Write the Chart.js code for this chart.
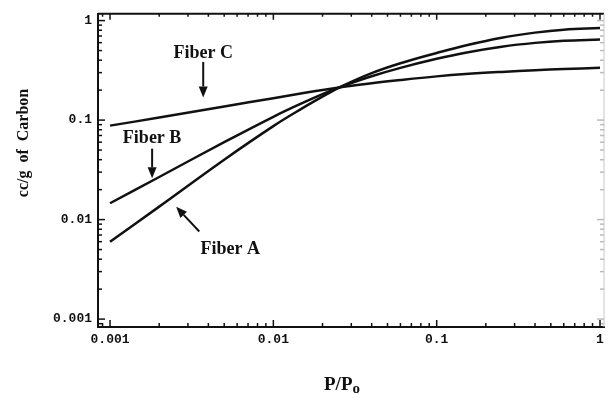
<!DOCTYPE html>
<html>
<head>
<meta charset="utf-8">
<script src="https://cdn.jsdelivr.net/npm/chart.js@4"></script>
<style>
  html, body { margin: 0; padding: 0; background: #fff; }
  #wrap { width: 609px; height: 394px; }
</style>
</head>
<body>
<div id="wrap"><canvas id="fiber-chart"></canvas></div>
<script>
"use strict";

// Relative pressure P/Po
var pressure = [0.001, 0.002, 0.005, 0.01, 0.015, 0.021, 0.026, 0.04, 0.06, 0.1, 0.15, 0.25, 0.4, 0.6, 1];
// cc/g of carbon
var fiberA = [0.006, 0.0135, 0.040, 0.087, 0.131, 0.18, 0.217, 0.296, 0.372, 0.472, 0.562, 0.672, 0.757, 0.81, 0.84];
var fiberB = [0.0146, 0.0268, 0.060, 0.108, 0.148, 0.189, 0.217, 0.276, 0.335, 0.413, 0.476, 0.546, 0.597, 0.627, 0.645];
var fiberC = [0.088, 0.106, 0.137, 0.166, 0.186, 0.203, 0.214, 0.235, 0.253, 0.275, 0.29, 0.305, 0.317, 0.326, 0.335];

var xTickVals = [0.001, 0.01, 0.1, 1];
var xTickLabels = ["0.001", "0.01", "0.1", "1"];
var yTickVals = [0.001, 0.01, 0.1, 1];
var yTickLabels = ["0.001", "0.01", "0.1", "1"];

// labels with arrows, in data units
var notes = [
  { text: "Fiber C", x: 0.00372, y: 0.471, from: [0.00372, 0.384], to: [0.00372, 0.169] },
  { text: "Fiber B", x: 0.00181, y: 0.0648, from: [0.00181, 0.0516], to: [0.00181, 0.026] },
  { text: "Fiber A", x: 0.00545, y: 0.00505, from: [0.00352, 0.0076], to: [0.00254, 0.01345] }
];

function points(ys) {
  return pressure.map(function(p, i) { return { x: p, y: ys[i] }; });
}

function curve(label, ys) {
  return {
    label: label,
    data: points(ys),
    borderColor: "#111",
    borderWidth: 2.5,
    pointRadius: 0,
    fill: false,
    tension: 0.4
  };
}

// inward tick marks, top/right frame, notes and axis titles
var frameTicks = {
  id: "frameTicks",
  afterDraw: function(chart) {
    var ctx = chart.ctx, a = chart.chartArea;
    var xs = chart.scales.x, ys = chart.scales.y;
    ctx.save();
    ctx.strokeStyle = "#111";
    ctx.lineWidth = 2;
    ctx.beginPath();
    ctx.moveTo(a.left, a.top);
    ctx.lineTo(a.right, a.top);
    ctx.stroke();
    ctx.strokeStyle = "#c8c8c8";
    ctx.lineWidth = 1;
    ctx.beginPath();
    ctx.moveTo(a.right, a.top);
    ctx.lineTo(a.right, a.bottom);
    ctx.stroke();

    ctx.lineWidth = 1.5;
    for (var d = -4; d <= 0; d++) {
      for (var k = 1; k <= 9; k++) {
        var v = k * Math.pow(10, d);
        var len = k === 1 ? 7 : 4;
        if (v >= xs.min && v <= xs.max) {
          var px = xs.getPixelForValue(v);
          ctx.strokeStyle = "#111";
          ctx.beginPath();
          ctx.moveTo(px, a.bottom); ctx.lineTo(px, a.bottom - len);
          ctx.moveTo(px, a.top); ctx.lineTo(px, a.top + len - 1);
          ctx.stroke();
        }
        if (v >= ys.min && v <= ys.max) {
          var py = ys.getPixelForValue(v);
          ctx.strokeStyle = "#111";
          ctx.beginPath();
          ctx.moveTo(a.left, py); ctx.lineTo(a.left + len, py);
          ctx.stroke();
          ctx.strokeStyle = "#bbb";
          ctx.beginPath();
          ctx.moveTo(a.right, py); ctx.lineTo(a.right - len, py);
          ctx.stroke();
        }
      }
    }

    // annotations
    ctx.fillStyle = "#111";
    ctx.strokeStyle = "#111";
    ctx.font = 'bold 18px "Liberation Serif"';
    ctx.textAlign = "center";
    ctx.textBaseline = "middle";
    notes.forEach(function(n) {
      ctx.fillText(n.text, xs.getPixelForValue(n.x), ys.getPixelForValue(n.y));
      var x1 = xs.getPixelForValue(n.from[0]), y1 = ys.getPixelForValue(n.from[1]);
      var x2 = xs.getPixelForValue(n.to[0]), y2 = ys.getPixelForValue(n.to[1]);
      var ang = Math.atan2(y2 - y1, x2 - x1);
      var hl = 11, hw = 4.5;
      ctx.lineWidth = 2;
      ctx.beginPath();
      ctx.moveTo(x1, y1);
      ctx.lineTo(x2 - Math.cos(ang) * hl, y2 - Math.sin(ang) * hl);
      ctx.stroke();
      ctx.beginPath();
      ctx.moveTo(x2, y2);
      ctx.lineTo(x2 - Math.cos(ang) * hl - Math.sin(ang) * hw, y2 - Math.sin(ang) * hl + Math.cos(ang) * hw);
      ctx.lineTo(x2 - Math.cos(ang) * hl + Math.sin(ang) * hw, y2 - Math.sin(ang) * hl - Math.cos(ang) * hw);
      ctx.closePath();
      ctx.fill();
    });

    // axis titles
    ctx.save();
    ctx.translate(24, 143);
    ctx.rotate(-Math.PI / 2);
    ctx.font = 'bold 16px "Liberation Serif"';
    ctx.textAlign = "center";
    ctx.textBaseline = "middle";
    ctx.fillText("cc/g  of  Carbon", 0, 0);
    ctx.restore();

    ctx.textAlign = "left";
    ctx.textBaseline = "alphabetic";
    ctx.font = 'bold 19px "Liberation Serif"';
    var main = "P/P";
    var w = ctx.measureText(main).width;
    ctx.font = 'bold 15px "Liberation Serif"';
    var ws = ctx.measureText("o").width;
    var x0 = 342 - (w + ws) / 2;
    ctx.font = 'bold 19px "Liberation Serif"';
    ctx.fillText(main, x0, 390);
    ctx.font = 'bold 15px "Liberation Serif"';
    ctx.fillText("o", x0 + w, 393);
    ctx.restore();
  }
};

var ctx = document.getElementById("fiber-chart").getContext("2d");
var fiberChart = new Chart(ctx, {
  type: "line",
  data: {
    datasets: [curve("Fiber A", fiberA), curve("Fiber B", fiberB), curve("Fiber C", fiberC)]
  },
  options: {
    responsive: true,
    maintainAspectRatio: false,
    animation: false,
    layout: { padding: { top: 8, right: 5, left: 0, bottom: 0 } },
    plugins: {
      legend: { display: false },
      tooltip: { enabled: false }
    },
    scales: {
      x: {
        type: "logarithmic",
        min: 0.000844,
        max: 1.058,
        grid: { display: false, drawTicks: false },
        border: { display: true, color: "#111", width: 2 },
        afterBuildTicks: function(scale) {
          scale.ticks = xTickVals.map(function(v) { return { value: v }; });
        },
        afterFit: function(scale) { scale.height = 67; },
        ticks: {
          autoSkip: false,
          maxRotation: 0,
          padding: 5,
          color: "#111",
          font: { family: "Liberation Mono", size: 13, weight: "bold" },
          callback: function(value, i) { return xTickLabels[i]; }
        }
      },
      y: {
        type: "logarithmic",
        min: 0.000833,
        max: 1.17,
        grid: { display: false, drawTicks: false },
        border: { display: true, color: "#111", width: 2 },
        afterBuildTicks: function(scale) {
          scale.ticks = yTickVals.map(function(v) { return { value: v }; });
        },
        afterFit: function(scale) { scale.width = 98; },
        ticks: {
          autoSkip: false,
          padding: 6,
          color: "#111",
          font: { family: "Liberation Mono", size: 13, weight: "bold" },
          callback: function(value, i) { return yTickLabels[i]; }
        }
      }
    }
  },
  plugins: [frameTicks]
});
</script>
</body>
</html>
